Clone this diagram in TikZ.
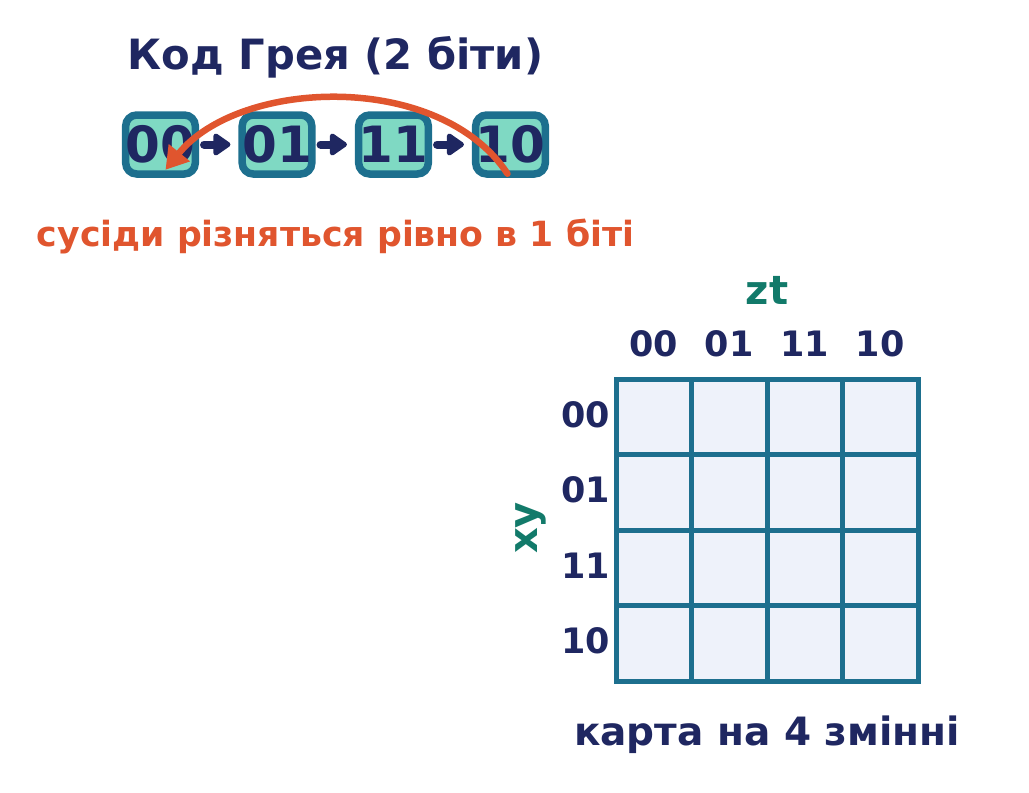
\documentclass[tikz,border=0pt]{standalone}
\usepackage{fontspec}
\setmainfont{DejaVu Sans}
\usetikzlibrary{arrows.meta,calc}
\definecolor{navy}{HTML}{1F2761}
\definecolor{orng}{HTML}{E0552E}
\definecolor{boxline}{HTML}{1D6F8E}
\definecolor{mint}{HTML}{7FD9C3}
\definecolor{tealg}{HTML}{127A6A}
\definecolor{cellfill}{HTML}{EEF2FA}
\begin{document}
\begin{tikzpicture}[x=1pt,y=-1pt,
  bit/.style={draw=boxline,fill=mint,line width=7.5pt,rounded corners=11pt,minimum width=69pt,minimum height=59pt,inner sep=0pt,text=navy,font=\fontsize{50}{50}\selectfont\bfseries},
  seq/.style={draw=navy,line width=8pt,line cap=round,-{Triangle[length=19pt,width=25pt,round]},shorten <=5pt,shorten >=8pt},
  lbl/.style={text=navy,font=\fontsize{35}{35}\selectfont\bfseries,inner sep=0pt},
  cell/.style={draw=boxline,fill=cellfill,line width=5pt,minimum size=75.5pt,inner sep=0pt}
]
\useasboundingbox (0,0) rectangle (1029,793);
% title
\node[text=navy,font=\fontsize{41.7}{42}\selectfont\bfseries] (title) at (335.5,57) {Код Грея (2 біти)};
% gray code boxes
\node[bit] (b00) at (160.5,144.5) {00};
\node[bit] (b01) at (277,144.5) {01};
\node[bit] (b11) at (393.5,144.5) {11};
\node[bit] (b10) at (510.5,144.5) {10};
\draw[seq] (b00) -- (b01);
\draw[seq] (b01) -- (b11);
\draw[seq] (b11) -- (b10);
\draw[orng,line width=6.5pt,line cap=round,-{Triangle[length=22pt,width=26pt]}]
  ([xshift=-3pt,yshift=4pt]b10.south) .. controls (440,71) and (240,78) .. ([xshift=5pt,yshift=8pt]b00.south);
% subtitle
\node[text=orng,font=\fontsize{34.7}{35}\selectfont\bfseries] (sub) at (335.5,236) {сусіди різняться рівно в 1 біті};
% K-map
\foreach \r in {0,...,3}{
  \foreach \c in {0,...,3}{
    \node[cell] (c\r\c) at ({616+75.5*(\c+0.5)},{379+75.5*(\r+0.5)}) {};
  }
}
\foreach \c/\t in {0/00,1/01,2/11,3/10}{
  \node[lbl] (col\c) at ($(c0\c.north)+(0,-33)$) {\t};
}
\foreach \r/\t in {0/00,1/01,2/11,3/10}{
  \node[lbl,anchor=east] (row\r) at ($(c\r0.west)+(-3,-2)$) {\t};
}
\node[text=tealg,font=\fontsize{40}{40}\selectfont\bfseries] (zt) at (767,290) {zt};
\node[text=tealg,font=\fontsize{40}{40}\selectfont\bfseries,rotate=90] (xy) at (531,528) {xy};
\node[text=navy,font=\fontsize{39}{39}\selectfont\bfseries] (cap) at (767,735) {карта на 4 змінні};
\end{tikzpicture}
\end{document}
